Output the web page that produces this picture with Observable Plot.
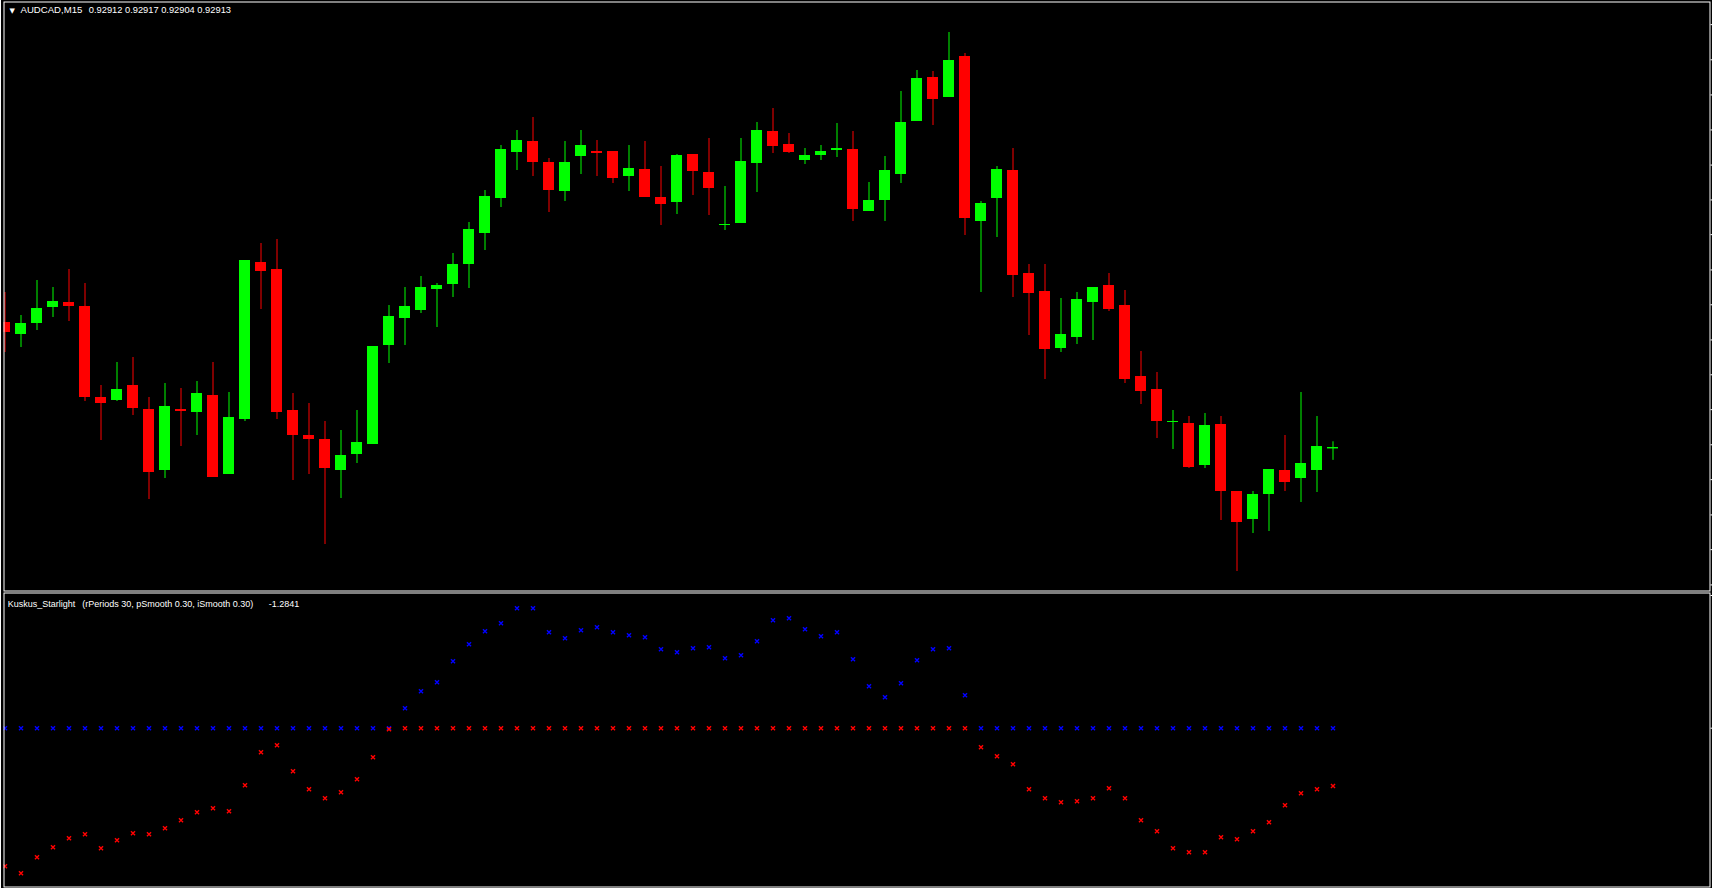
<!DOCTYPE html>
<html>
<head>
<meta charset="utf-8">
<script src="https://cdn.jsdelivr.net/npm/d3@7"></script>
<script src="https://cdn.jsdelivr.net/npm/@observablehq/plot@0.6"></script>
<style>
html, body { margin:0; padding:0; background:#000; overflow:hidden; }
#chart { position:relative; width:1712px; height:888px; background:#000; }
#chart svg { display:block; }
#edge { position:absolute; left:0; top:0; width:1px; height:888px; background:#fff; }
</style>
</head>
<body>
<div id="chart"><div id="edge"></div></div>
<script>
// ---------- data ----------
const symbolLabel = "AUDCAD,M15";
const open = [
0.930005,0.929921,0.929998,0.930110,0.930145,0.930117,0.929480,0.929459,0.929564,0.929396,
0.928969,0.929396,0.929375,0.929494,0.928941,0.929326,0.930425,0.930376,0.929389,0.929214,
0.929186,0.928969,0.929081,0.929151,0.929844,0.930033,0.930089,0.930236,0.930271,0.930411,
0.930628,0.930873,0.931195,0.931272,0.931125,0.930922,0.931167,0.931202,0.931202,0.931027,
0.931076,0.930880,0.930845,0.931181,0.931055,0.930691,0.930698,0.931118,0.931342,0.931251,
0.931139,0.931174,0.931209,0.931216,0.930782,0.930859,0.931041,0.931412,0.931720,0.931580,
0.931867,0.930712,0.930873,0.931069,0.930348,0.930222,0.929823,0.929900,0.930145,0.930264,
0.930124,0.929627,0.929536,0.929305,0.929298,0.929004,0.929291,0.928822,0.928626,0.928801,
0.928969,0.928913,0.928969,0.92912];
const high = [
0.930215,0.930054,0.930299,0.930250,0.930376,0.930278,0.929564,0.929725,0.929760,0.929480,
0.929578,0.929543,0.929592,0.929725,0.929515,0.930439,0.930558,0.930586,0.929508,0.929438,
0.929312,0.929249,0.929389,0.929837,0.930124,0.930250,0.930327,0.930278,0.930488,0.930705,
0.930929,0.931244,0.931349,0.931440,0.931153,0.931272,0.931349,0.931279,0.931202,0.931244,
0.931272,0.931097,0.931181,0.931181,0.931293,0.930957,0.931293,0.931405,0.931503,0.931328,
0.931223,0.931244,0.931398,0.931342,0.930985,0.931167,0.931622,0.931769,0.931762,0.932035,
0.931888,0.930852,0.931097,0.931223,0.930411,0.930411,0.930173,0.930215,0.930250,0.930348,
0.930229,0.929802,0.929655,0.929389,0.929347,0.929368,0.929347,0.928822,0.928822,0.928976,
0.929214,0.929515,0.929347,0.92917];
const low = [
0.929795,0.929830,0.929949,0.930040,0.930012,0.929452,0.929179,0.929452,0.929354,0.928766,
0.928913,0.929137,0.929214,0.928920,0.928941,0.929312,0.930096,0.929326,0.928899,0.928941,
0.928451,0.928773,0.929018,0.929151,0.929718,0.929844,0.930068,0.929970,0.930180,0.930243,
0.930509,0.930810,0.931069,0.931027,0.930775,0.930852,0.931041,0.931027,0.930978,0.930922,
0.930880,0.930684,0.930761,0.930894,0.930754,0.930649,0.930698,0.930915,0.931188,0.931188,
0.931111,0.931139,0.931160,0.930712,0.930782,0.930712,0.930978,0.931412,0.931384,0.931580,
0.930614,0.930215,0.930600,0.930180,0.929914,0.929606,0.929795,0.929851,0.929879,0.930082,
0.929578,0.929431,0.929193,0.929116,0.928983,0.928983,0.928619,0.928262,0.928528,0.928542,
0.928822,0.928745,0.928815,0.92904];
const close = [
0.929935,0.929998,0.930103,0.930152,0.930117,0.929480,0.929438,0.929536,0.929403,0.928955,
0.929417,0.929382,0.929508,0.928920,0.929340,0.930439,0.930362,0.929375,0.929214,0.929186,
0.928983,0.929074,0.929165,0.929837,0.930047,0.930117,0.930250,0.930264,0.930411,0.930656,
0.930887,0.931216,0.931279,0.931125,0.930929,0.931125,0.931244,0.931188,0.931013,0.931083,
0.930880,0.930831,0.931174,0.931062,0.930943,0.930691,0.931132,0.931349,0.931237,0.931195,
0.931174,0.931202,0.931223,0.930796,0.930859,0.931069,0.931405,0.931713,0.931566,0.931839,
0.930733,0.930838,0.931076,0.930334,0.930208,0.929816,0.929921,0.930166,0.930250,0.930096,
0.929606,0.929522,0.929312,0.929312,0.928990,0.929284,0.928822,0.928605,0.928801,0.928976,
0.928885,0.929018,0.929137,0.92913];
const priceTicks = [0.932090,0.931844,0.931598,0.931353,0.931107,0.930863,0.930620,0.930373,0.930129,
0.929883,0.929639,0.929395,0.929149,0.928905,0.928658,0.928415,0.928168];

const indicatorName = "Kuskus_Starlight";
const indicatorParams = "(rPeriods 30, pSmooth 0.30, iSmooth 0.30)";
const bluePoints = [
0,0,0,0,0,0,0,0,0,0,
0,0,0,0,0,0,0,0,0,0,
0,0,0,0,0,0.444,0.821,1.021,1.487,1.865,
2.153,2.331,2.664,2.664,2.131,1.998,2.176,2.242,2.131,2.065,
2.020,1.754,1.687,1.776,1.798,1.554,1.621,1.931,2.398,2.442,
2.198,2.042,2.131,1.532,0.932,0.688,0.999,1.510,1.754,1.776,
0.733,0,0,0,0,0,0,0,0,0,
0,0,0,0,0,0,0,0,0,0,
0,0,0,0];
const redPoints = [
-3.064,-3.219,-2.864,-2.642,-2.442,-2.353,-2.664,-2.486,-2.331,-2.353,
-2.220,-2.042,-1.865,-1.776,-1.843,-1.265,-0.533,-0.377,-0.955,-1.354,
-1.554,-1.421,-1.132,-0.644,-0.022,0,0,0,0,0,
0,0,0,0,0,0,0,0,0,0,
0,0,0,0,0,0,0,0,0,0,
0,0,0,0,0,0,0,0,0,0,
0,-0.422,-0.622,-0.799,-1.354,-1.554,-1.643,-1.621,-1.554,-1.332,
-1.554,-2.042,-2.287,-2.664,-2.753,-2.753,-2.420,-2.464,-2.287,-2.087,
-1.709,-1.443,-1.354,-1.2841];
const indicatorTicks = [2.946, 0];

// ---------- drawing ----------
const W = 1712;
const BULL = "#00ff00", BEAR = "#ff0000";
const HALF = 0.34375;
const bars = open.map((o, i) => ({i, open: o, high: high[i], low: low[i], close: close[i], bull: close[i] >= open[i]}));
const xOpt = {type: "linear", domain: [-0.28125, 106.71875], range: [0, W], axis: null};
const font = "Liberation Sans, Arial, sans-serif";
const last = bars[bars.length - 1];

const main = Plot.plot({
  width: W, height: 592,
  marginLeft: 3.5, marginRight: 2.5, marginTop: 1.5, marginBottom: 1.5,
  style: {background: "#000", color: "#fff", fontFamily: font},
  x: xOpt,
  y: {domain: [0.928115, 0.932259], range: [592, 0], axis: null},
  color: {type: "identity"},
  marks: [
    Plot.ruleX(bars, {x: "i", y1: "low", y2: "high", stroke: d => d.bull ? BULL : BEAR, strokeWidth: 1, clip: true}),
    Plot.rect(bars, {x1: d => d.i - HALF, x2: d => d.i + HALF, y1: "open", y2: "close", fill: d => d.bull ? BULL : BEAR, clip: true}),
    Plot.ruleY(bars.filter(d => Math.abs(d.close - d.open) < 0.000012), {y: "close", x1: d => d.i - HALF, x2: d => d.i + HALF, stroke: d => d.bull ? BULL : BEAR, strokeWidth: 1, clip: true}),
    Plot.frame({stroke: "#fff", strokeWidth: 1}),
    Plot.axisY({anchor: "right", ticks: priceTicks, tickSize: 3, tickFormat: () => "", label: null, stroke: "#fff"}),
    Plot.text(["\u25BC"], {frameAnchor: "top-left", dx: 8.2, dy: 8.6, textAnchor: "middle", lineAnchor: "middle", fontSize: 7, fontFamily: "DejaVu Sans", fill: "#fff"}),
    Plot.text([symbolLabel], {frameAnchor: "top-left", dx: 16.5, dy: 10.8, textAnchor: "start", lineAnchor: "bottom", fontSize: 9.6, fontFamily: font, fill: "#fff"}),
    Plot.text([`${last.open} ${last.high} ${last.low} ${last.close}`], {frameAnchor: "top-left", dx: 84.8, dy: 10.8, textAnchor: "start", lineAnchor: "bottom", fontSize: 9.3, fontFamily: font, fill: "#fff"})
  ]
});

const ind = bluePoints.map((b, i) => ({i, blue: b, red: redPoints[i]}));
const indicator = Plot.plot({
  width: W, height: 296,
  marginLeft: 3.5, marginRight: 2.5, marginTop: 0.5, marginBottom: 1.5,
  style: {background: "#000", color: "#fff", fontFamily: font},
  x: xOpt,
  y: {domain: [-3.55866, 3.01254], range: [296, 0], axis: null},
  marks: [
    Plot.dot(ind, {x: "i", y: "blue", symbol: "times", r: 2, stroke: "#0000ff", strokeWidth: 1.4, clip: true}),
    Plot.dot(ind, {x: "i", y: "red", symbol: "times", r: 2, stroke: "#ff0000", strokeWidth: 1.4, clip: true}),
    Plot.frame({stroke: "#fff", strokeWidth: 1}),
    Plot.axisY({anchor: "right", ticks: indicatorTicks, tickSize: 3, tickFormat: () => "", label: null, stroke: "#fff"}),
    Plot.text([indicatorName], {frameAnchor: "top-left", dx: 3.8, dy: 13.5, textAnchor: "start", lineAnchor: "bottom", fontSize: 9, fontFamily: font, fill: "#fff"}),
    Plot.text([indicatorParams], {frameAnchor: "top-left", dx: 78.2, dy: 13.5, textAnchor: "start", lineAnchor: "bottom", fontSize: 9, fontFamily: font, fill: "#fff"}),
    Plot.text([String(redPoints[redPoints.length - 1])], {frameAnchor: "top-left", dx: 264.8, dy: 13.5, textAnchor: "start", lineAnchor: "bottom", fontSize: 9, fontFamily: font, fill: "#fff"})
  ]
});

const chart = document.getElementById("chart");
chart.appendChild(main);
chart.appendChild(indicator);
</script>
</body>
</html>
